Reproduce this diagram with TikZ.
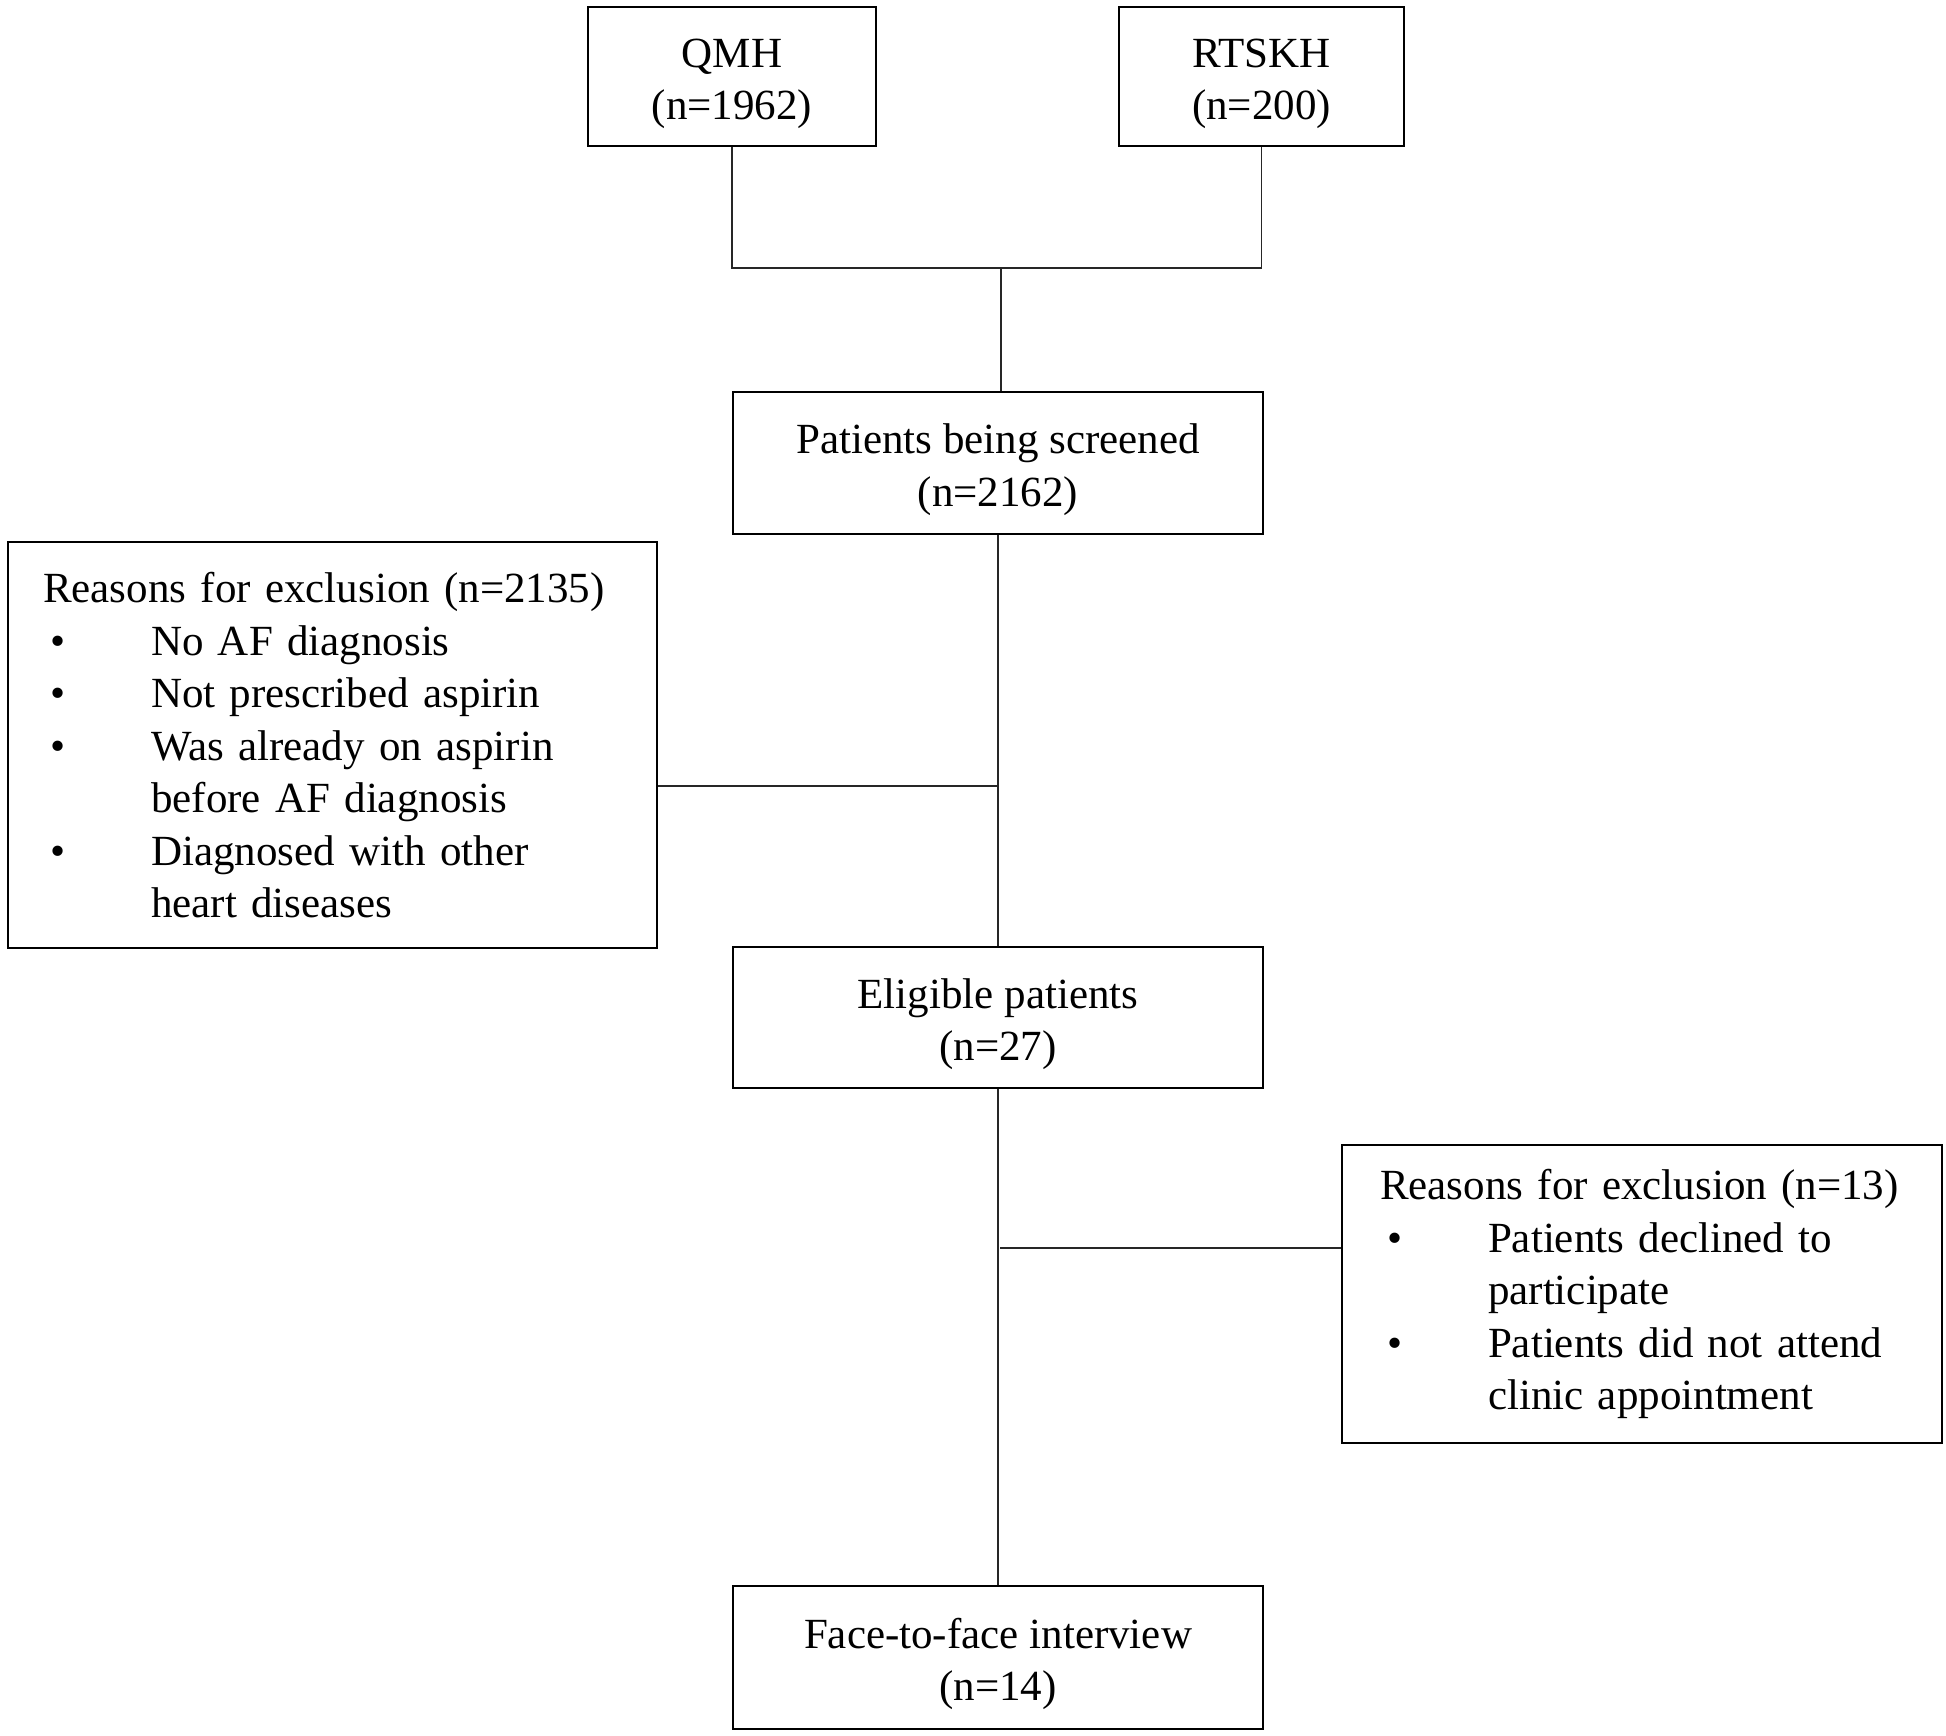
\documentclass[tikz,border=0pt]{standalone}
\usepackage{fontspec}
\setmainfont{Liberation Serif}
\begin{document}
\begin{tikzpicture}[x=1pt,y=1pt,
  box/.style={draw=black, line width=2.2pt, inner sep=0pt, align=center,
    font=\fontsize{43}{52.5}\selectfont},
  listbox/.style={draw=black, line width=2.2pt, inner ysep=0pt, align=left,
    font=\fontsize{43}{52.5}\selectfont, anchor=north west},
  link/.style={draw=black!85, line width=1.8pt}]
\useasboundingbox (0,0) rectangle (1946,-1735);
\newcommand{\blt}{\makebox[108pt][l]{\hspace*{7pt}\textbullet}}
\newcommand{\ind}{\hspace*{108pt}}
\newcommand{\tp}{\rule{0pt}{43pt}}
% top sources
\node[box, minimum width=288, minimum height=139] (qmh) at (732,-76.5) {\tp QMH\\(n=1962)};
\node[box, minimum width=285, minimum height=139] (rtskh) at (1261.5,-76.5) {\tp RTSKH\\(n=200)};
% main column
\node[box, minimum width=530, minimum height=142] (screen) at (998,-463) {\tp Patients being screened\\(n=2162)};
\node[box, minimum width=530, minimum height=141] (elig) at (998,-1017.5) {\tp Eligible patients\\(n=27)};
\node[box, minimum width=530, minimum height=143] (face) at (998,-1657.5) {\tp Face-to-face interview\\(n=14)};
% exclusion boxes
\node[listbox, minimum width=649, minimum height=406, inner xsep=35pt, text width=579pt] (r1) at (7,-541)
  {Reasons for exclusion (n=2135)\\
   \blt No AF diagnosis\\
   \blt Not prescribed aspirin\\
   \blt Was already on aspirin\\
   \ind before AF diagnosis\\
   \blt Diagnosed with other\\
   \ind heart diseases};
\node[listbox, minimum width=600, minimum height=298, inner xsep=38pt, text width=524pt] (r2) at (1341,-1144)
  {Reasons for exclusion (n=13)\\
   \blt Patients declined to\\
   \ind participate\\
   \blt Patients did not attend\\
   \ind clinic appointment};
% connectors
\coordinate (j1) at (1001,-268);
\coordinate (j2) at (998,-786);
\coordinate (j3) at (1000,-1248);
\draw[link] (qmh.south) |- (j1) -| (rtskh.south);
\draw[link] (j1) -- (j1 |- screen.north);
\draw[link] (screen.south) -- (elig.north);
\draw[link] (r1.east |- j2) -- (j2);
\draw[link] (elig.south) -- (face.north);
\draw[link] (j3) -- (j3 -| r2.west);
\end{tikzpicture}
\end{document}
